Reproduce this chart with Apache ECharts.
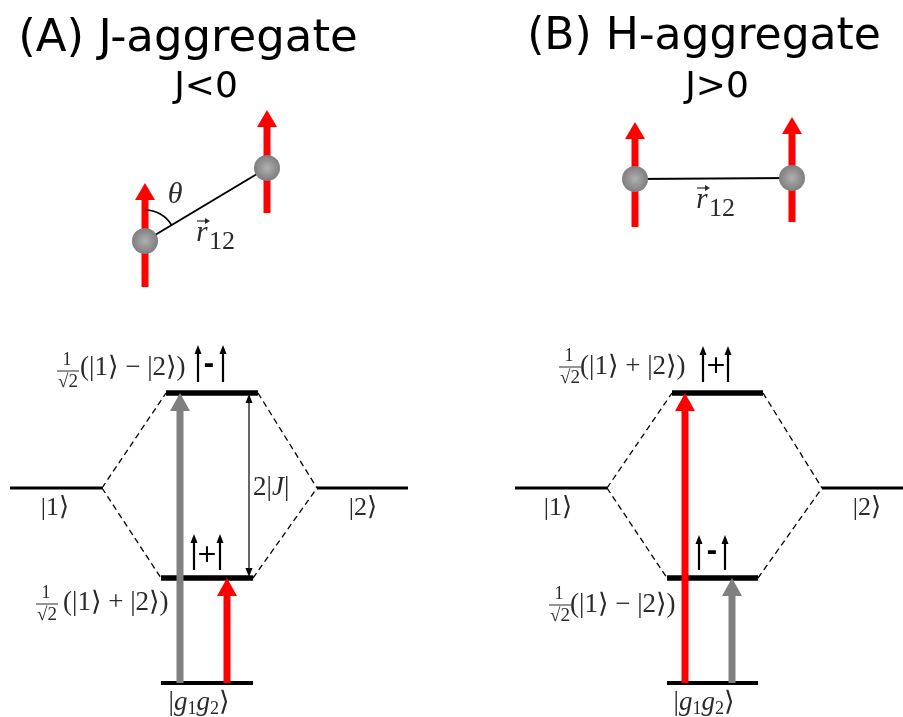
<!DOCTYPE html>
<html><head><meta charset="utf-8">
<script src="https://cdn.jsdelivr.net/npm/echarts@6/dist/echarts.min.js"></script>
<style>html,body{margin:0;padding:0;background:#fff}#c{width:903px;height:717px}</style>
</head><body><div id="c"></div>
<script>
// ================= DATA (diagram units, y grows downward) =================
const panelTitles   = ['(A) J-aggregate', '(B) H-aggregate'];
const titlePos      = [[188, 39], [704, 38]];
const couplingSigns = ['J<0', 'J>0'];
const couplingPos   = [[206, 88], [717, 88]];

// energy levels [xStart, xEnd, y]
const monomerLevels = [[10, 102, 488], [317, 408, 488], [515, 607, 488], [822, 903, 488]];
const upperLevels   = [[166, 258, 393], [672, 763, 393]];
const lowerLevels   = [[161, 253, 578], [667, 758, 578]];
const groundLevels  = [[161, 253, 683], [667, 758, 683]];

// optical transitions [x, yFrom, yTo, kind]  kind 0 = bright (red), 1 = dark (gray)
const transitions   = [[180, 683, 393, 1], [227, 683, 578, 0], [685, 683, 393, 0], [732, 683, 578, 1]];
// splitting 2|J| arrow [x, yTop, yBottom]
const splitting     = [[249, 393, 578]];
const splittingLabel = [[253, 488]];

// molecules
const atoms   = [[145, 241], [267, 168], [635, 179], [792, 178]];
const bonds   = [[0, 1], [2, 3]];
const dipoles = [[145, 287, 183], [267, 213, 110], [635, 227, 122], [792, 222, 117]]; // [x, yTail, yTip]
const thetaArc = [[0, 1, 31]];          // [atom, towardsAtom, radius]
const thetaPos = [[175, 195]];
const r12Pos   = [[202, 233], [702, 200]];

// spin configurations [xLeft, xRight, yTip, yTail, signX, signY]
const spinPairs = [[198, 223, 345, 382, 209, 366], [194, 220, 534, 570, 207, 555],
                   [703, 728, 346, 382, 716, 366], [699, 725, 535, 570, 712, 553]];
const spinSigns = ['-', '+', '+', '-'];

// state labels
const ketLabels = ['|1⟩', '|2⟩', '|1⟩', '|2⟩'];
const ketPos    = [[55, 508], [363, 508], [558, 508], [867, 508]];
const groundPos = [[199, 703], [704, 703]];
// superposition labels: fraction centre [x, y] and bracket start [x, y]
const superTexts = ['(|1⟩ − |2⟩)', '(|1⟩ + |2⟩)', '(|1⟩ + |2⟩)', '(|1⟩ − |2⟩)'];
const fracPos    = [[67, 370], [46, 603], [569, 366], [559, 604]];
const superPos   = [[80, 368], [63, 603], [580, 367], [570, 605]];

// ================= RENDERING =================
const SERIF = "'Liberation Serif', 'DejaVu Serif', serif";
const SANS = "'DejaVu Sans', sans-serif";
const MATH = '#2a2a2a';
const MF = 27;   // math font size
const TITLE_FS = [45, 44];

function P(api, x, y) { return api.coord([x, y]); }
function lineEl(a, b, style) {
  return { type: 'line', shape: { x1: a[0], y1: a[1], x2: b[0], y2: b[1] }, style: style };
}
function arrowEl(base, tip, shaftW, headW, headL, color) {
  const dir = tip[1] < base[1] ? 1 : -1;
  const neck = tip[1] + dir * headL;
  return { type: 'group', children: [
    lineEl(base, [tip[0], neck], { stroke: color, lineWidth: shaftW }),
    { type: 'polygon', shape: { points: [[tip[0], tip[1]], [tip[0] - headW / 2, neck], [tip[0] + headW / 2, neck]] }, style: { fill: color } }
  ]};
}
function textEl(p, text, size, opts) {
  opts = opts || {};
  return { type: 'text', x: p[0], y: p[1], style: {
    text: text, fill: opts.fill || '#000', fontSize: size, fontFamily: opts.family || SERIF,
    fontStyle: opts.italic ? 'italic' : 'normal', fontWeight: opts.weight || 'normal',
    align: opts.align || 'center', verticalAlign: 'middle', rich: opts.rich } };
}
const mathRich = {
  n: { fontSize: MF, fontFamily: SERIF, fill: MATH, lineHeight: 30 },
  i: { fontSize: MF, fontFamily: SERIF, fontStyle: 'italic', fill: MATH, lineHeight: 30 },
  s: { fontSize: 18, fontFamily: SERIF, fill: MATH, lineHeight: 18, verticalAlign: 'bottom' }
};

const levelData = [];
monomerLevels.forEach(l => levelData.push([l[0], l[1], l[2], 3]));
upperLevels.forEach(l => levelData.push([l[0], l[1], l[2], 5.5]));
lowerLevels.forEach(l => levelData.push([l[0], l[1], l[2], 5.5]));
groundLevels.forEach(l => levelData.push([l[0], l[1], l[2], 4]));

// dashed correlation lines derived from the levels
const dashData = [];
for (let p = 0; p < 2; p++) {
  const m1 = monomerLevels[2 * p], m2 = monomerLevels[2 * p + 1], up = upperLevels[p], lo = lowerLevels[p];
  dashData.push([m1[1], m1[2], up[0], up[2]], [m1[1], m1[2], lo[0], lo[2]],
                [up[1], up[2], m2[0], m2[2]], [lo[1], lo[2], m2[0], m2[2]]);
}

const series = [];
series.push({ type: 'custom', data: dashData, renderItem: (params, api) =>
  lineEl(P(api, api.value(0), api.value(1)), P(api, api.value(2), api.value(3)),
         { stroke: '#000', lineWidth: 1.3, lineDash: [6, 4] }) });
series.push({ type: 'custom', data: levelData, renderItem: (params, api) =>
  lineEl(P(api, api.value(0), api.value(2)), P(api, api.value(1), api.value(2)),
         { stroke: '#000', lineWidth: api.value(3) }) });
series.push({ type: 'custom', data: transitions, renderItem: (params, api) =>
  arrowEl(P(api, api.value(0), api.value(1)), P(api, api.value(0), api.value(2)), 7, 20, 18,
          api.value(3) === 0 ? '#ff0000' : '#808080') });
series.push({ type: 'custom', data: splitting, renderItem: (params, api) => {
  const a = P(api, api.value(0), api.value(1)), b = P(api, api.value(0), api.value(2));
  const hl = 10, hw = 7;
  return { type: 'group', children: [
    lineEl([a[0], a[1] + hl], [b[0], b[1] - hl], { stroke: '#000', lineWidth: 1.2 }),
    { type: 'polygon', shape: { points: [[a[0], a[1] + 1], [a[0] - hw / 2, a[1] + hl], [a[0] + hw / 2, a[1] + hl]] }, style: { fill: '#000' } },
    { type: 'polygon', shape: { points: [[b[0], b[1] - 1], [b[0] - hw / 2, b[1] - hl], [b[0] + hw / 2, b[1] - hl]] }, style: { fill: '#000' } }
  ]};
}});
series.push({ type: 'custom', data: spinPairs, renderItem: (params, api) => {
  const l0 = P(api, api.value(0), api.value(3)), l1 = P(api, api.value(0), api.value(2));
  const r0 = P(api, api.value(1), api.value(3)), r1 = P(api, api.value(1), api.value(2));
  const s = P(api, api.value(4), api.value(5));
  const sign = spinSigns[params.dataIndex];
  return { type: 'group', children: [
    arrowEl(l0, l1, 2.2, 7, 9, '#000'), arrowEl(r0, r1, 2.2, 7, 9, '#000'),
    textEl(s, sign, sign === '-' ? 26 : 25, { family: SANS, weight: sign === '-' ? 'bold' : 'normal' })
  ]};
}});
series.push({ type: 'custom', data: bonds, renderItem: (params, api) => {
  const a = atoms[api.value(0)], b = atoms[api.value(1)];
  return lineEl(P(api, a[0], a[1]), P(api, b[0], b[1]), { stroke: '#000', lineWidth: 2 });
}});
series.push({ type: 'custom', data: dipoles, renderItem: (params, api) =>
  arrowEl(P(api, api.value(0), api.value(1)), P(api, api.value(0), api.value(2)), 7, 20, 17, '#ff0000') });
series.push({ type: 'custom', data: thetaArc, renderItem: (params, api) => {
  const a = atoms[api.value(0)], b = atoms[api.value(1)];
  const c = P(api, a[0], a[1]), d = P(api, b[0], b[1]);
  const ang = Math.atan2(d[1] - c[1], d[0] - c[0]);
  return { type: 'arc', shape: { cx: c[0], cy: c[1], r: api.value(2), startAngle: -Math.PI / 2, endAngle: ang, clockwise: true },
           style: { stroke: '#000', lineWidth: 1.6, fill: null } };
}});
series.push({ type: 'custom', data: atoms, renderItem: (params, api) => {
  const c = P(api, api.value(0), api.value(1));
  return { type: 'circle', shape: { cx: c[0], cy: c[1], r: 13 }, style: { fill: {
    type: 'radial', x: 0.5, y: 0.5, r: 0.5, colorStops: [{ offset: 0, color: '#b0b0b0' }, { offset: 0.6, color: '#929292' }, { offset: 1, color: '#7e7e7e' }] } } };
}});
series.push({ type: 'custom', data: titlePos, renderItem: (params, api) =>
  textEl(P(api, api.value(0), api.value(1)), panelTitles[params.dataIndex], TITLE_FS[params.dataIndex], { family: SANS }) });
series.push({ type: 'custom', data: couplingPos, renderItem: (params, api) =>
  textEl(P(api, api.value(0), api.value(1)), couplingSigns[params.dataIndex], 36, { family: SANS }) });
series.push({ type: 'custom', data: ketPos, renderItem: (params, api) =>
  textEl(P(api, api.value(0), api.value(1)), ketLabels[params.dataIndex], 26, { fill: MATH }) });
series.push({ type: 'custom', data: groundPos, renderItem: (params, api) =>
  textEl(P(api, api.value(0), api.value(1)), '{n||}{i|g}{s|1}{i|g}{s|2}{n|⟩}', MF, { fill: MATH, rich: mathRich }) });
series.push({ type: 'custom', data: splittingLabel, renderItem: (params, api) =>
  textEl(P(api, api.value(0), api.value(1)), '{n|2|}{i|J}{n||}', MF, { align: 'left', fill: MATH, rich: mathRich }) });
series.push({ type: 'custom', data: thetaPos, renderItem: (params, api) =>
  textEl(P(api, api.value(0), api.value(1)), 'θ', 30, { italic: true, fill: MATH }) });
series.push({ type: 'custom', data: r12Pos, renderItem: (params, api) => {
  const p = P(api, api.value(0), api.value(1));
  return { type: 'group', children: [
    textEl(p, 'r', 29, { italic: true, fill: MATH }),
    lineEl([p[0] - 5, p[1] - 12], [p[0] + 6, p[1] - 12], { stroke: MATH, lineWidth: 1.2 }),
    { type: 'polygon', shape: { points: [[p[0] + 8, p[1] - 12], [p[0] + 3, p[1] - 15], [p[0] + 3, p[1] - 9]] }, style: { fill: MATH } },
    textEl([p[0] + 7, p[1] + 9], '12', 26, { align: 'left', fill: MATH })
  ]};
}});
series.push({ type: 'custom', data: fracPos, renderItem: (params, api) => {
  const c = P(api, api.value(0), api.value(1));
  return { type: 'group', children: [
    textEl([c[0], c[1] - 10], '1', 18, { fill: MATH }),
    lineEl([c[0] - 10, c[1] + 1], [c[0] + 12, c[1] + 1], { stroke: MATH, lineWidth: 1 }),
    textEl([c[0] + 1, c[1] + 12], '√2', 19, { fill: MATH })
  ]};
}});
series.push({ type: 'custom', data: superPos, renderItem: (params, api) =>
  textEl(P(api, api.value(0), api.value(1)), superTexts[params.dataIndex], MF, { align: 'left', fill: MATH }) });

series.forEach(s => { s.coordinateSystem = 'cartesian2d'; s.silent = true; });

const chart = echarts.init(document.getElementById('c'));
chart.setOption({
  animation: false,
  backgroundColor: '#ffffff',
  grid: { left: 0, right: 0, top: 0, bottom: 0 },
  xAxis: { type: 'value', min: 0, max: 903, show: false },
  yAxis: { type: 'value', min: 0, max: 717, inverse: true, show: false },
  series: series
});
</script></body></html>
